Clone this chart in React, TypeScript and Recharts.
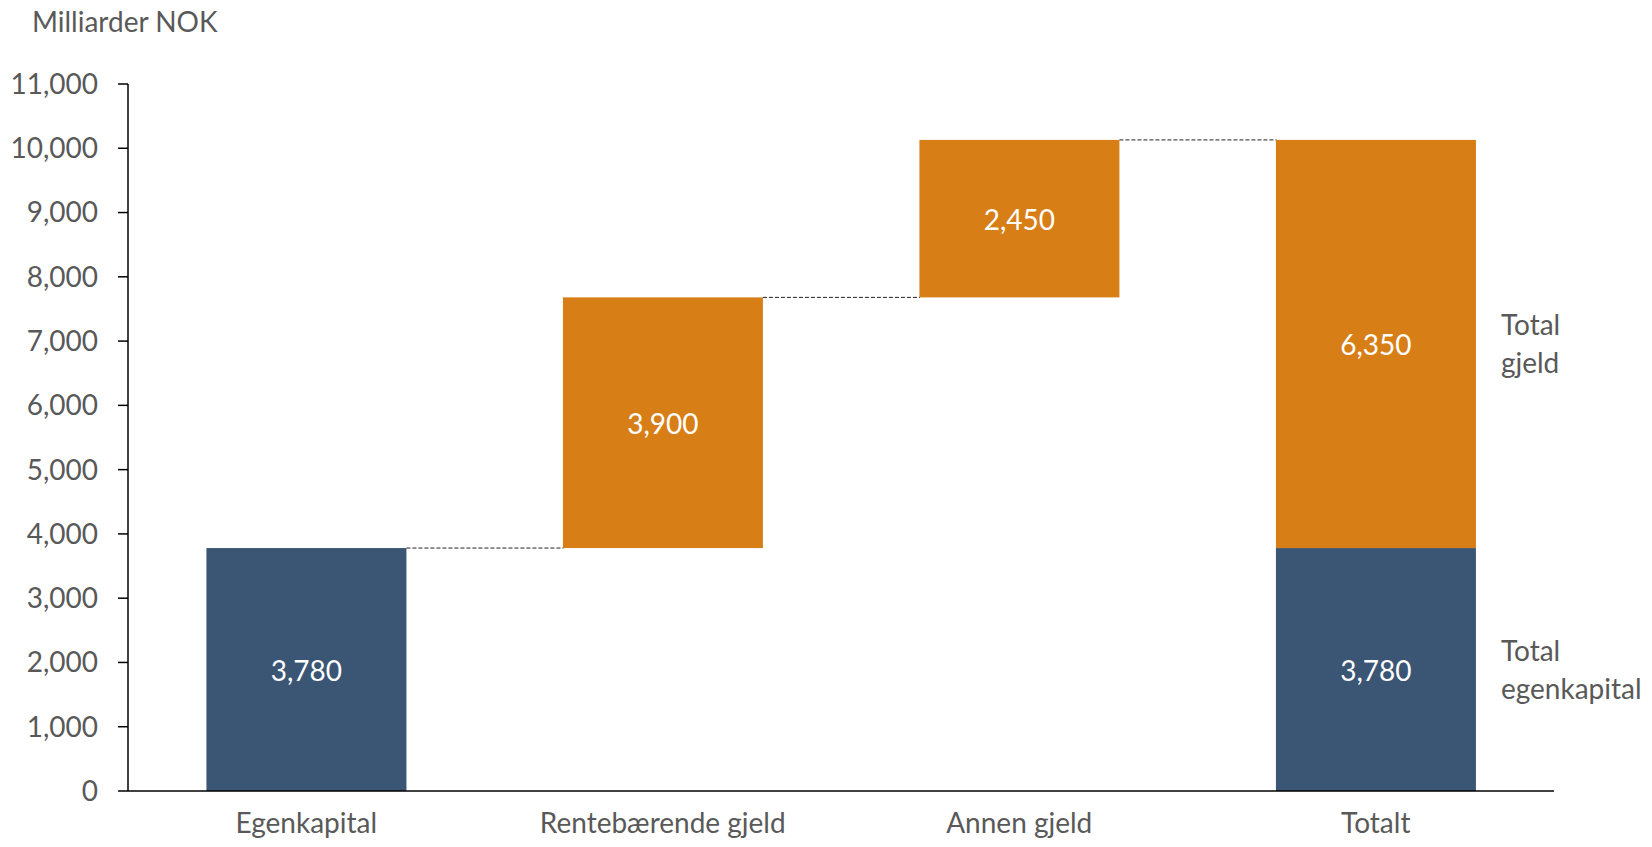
import { BarChart, Bar, XAxis, YAxis, LabelList } from 'recharts';

const categories = ['Egenkapital', 'Rentebærende gjeld', 'Annen gjeld', 'Totalt'];
const baseValues = [0, 3780, 7680, 0];
const equityValues = [3780, 0, 0, 3780];
const debtValues = [0, 3900, 2450, 6350];
const yTicks = [0, 1000, 2000, 3000, 4000, 5000, 6000, 7000, 8000, 9000, 10000, 11000];
const sideLabels = { equity: ['Total', 'egenkapital'], debt: ['Total', 'gjeld'] };

const BLUE = '#3b5674';
const ORANGE = '#d77e17';
const TEXT = '#595959';
const FONT = 'Lato, "Open Sans", sans-serif';
const FS = 28;
const GAP = 0.22; // barCategoryGap

const data = categories.map((name, i) => ({
  name,
  base: baseValues[i],
  equity: equityValues[i],
  debt: debtValues[i],
}));

const fmt = (v: number) => v.toLocaleString('en-US');

function makeShape(kind: 'equity' | 'debt', fill: string) {
  return (props: any) => {
    const { x, y, width, height, index, payload } = props;
    const value = kind === 'equity' ? payload.equity : payload.debt;
    if (!value) return <g />;
    const isTop = kind === 'debt' || !payload.debt;
    const last = index === data.length - 1;
    const gap = (width * 2 * GAP) / (1 - 2 * GAP);
    const lines = sideLabels[kind];
    const cy = y + height / 2;
    const tx = x + width + 25;
    return (
      <g>
        <rect x={x} y={y} width={width} height={height} fill={fill} />
        {isTop && !last && (
          <line
            x1={x + width}
            x2={x + width + gap}
            y1={y}
            y2={y}
            stroke="#222"
            strokeWidth={1}
            strokeDasharray="4 2"
          />
        )}
        {last && (
          <text fill={TEXT} fontSize={FS} fontFamily={FONT}>
            <tspan x={tx} y={cy - 9}>{lines[0]}</tspan>
            <tspan x={tx} y={cy + 29}>{lines[1]}</tspan>
          </text>
        )}
      </g>
    );
  };
}

function valueLabel(props: any) {
  const { x, y, width, height, value } = props;
  if (!value) return null;
  return (
    <text
      x={x + width / 2}
      y={y + height / 2}
      fill="#fff"
      fontSize={FS}
      fontFamily={FONT}
      textAnchor="middle"
      dominantBaseline="central"
    >
      {fmt(value)}
    </text>
  );
}

export default function App() {
  return (
    <div style={{ position: 'relative', width: 1644, height: 831, fontFamily: FONT }}>
      <div
        style={{
          position: 'absolute',
          left: 24,
          top: -4,
          fontSize: FS,
          color: TEXT,
          lineHeight: '34px',
        }}
      >
        Milliarder NOK
      </div>
      <BarChart
        width={1644}
        height={831}
        data={data}
        margin={{ top: 76, right: 98, bottom: 0, left: 0 }}
        barCategoryGap={`${GAP * 100}%`}
      >
        <XAxis
          dataKey="name"
          height={48}
          axisLine={{ stroke: '#000', strokeWidth: 1.5 }}
          tickLine={false}
          tickSize={0}
          tickMargin={22}
          tick={{ fill: TEXT, fontSize: FS, fontFamily: FONT }}
          interval={0}
        />
        <YAxis
          width={120}
          domain={[0, 11000]}
          ticks={yTicks}
          interval={0}
          tickFormatter={fmt}
          axisLine={{ stroke: '#000', strokeWidth: 1.5 }}
          tickLine={{ stroke: '#000', strokeWidth: 1.5 }}
          tickSize={10}
          tickMargin={20}
          tick={{ fill: TEXT, fontSize: FS, fontFamily: FONT }}
        />
        <Bar dataKey="base" stackId="a" fill="transparent" isAnimationActive={false} />
        <Bar
          dataKey="equity"
          stackId="a"
          fill={BLUE}
          isAnimationActive={false}
          shape={makeShape('equity', BLUE)}
        >
          <LabelList dataKey="equity" content={valueLabel} />
        </Bar>
        <Bar
          dataKey="debt"
          stackId="a"
          fill={ORANGE}
          isAnimationActive={false}
          shape={makeShape('debt', ORANGE)}
        >
          <LabelList dataKey="debt" content={valueLabel} />
        </Bar>
      </BarChart>
    </div>
  );
}
